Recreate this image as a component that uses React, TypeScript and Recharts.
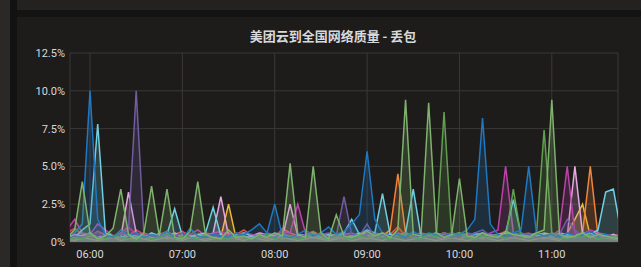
import React from 'react';
import { AreaChart, Area, XAxis, YAxis, CartesianGrid } from 'recharts';

// sample index i -> minutes since midnight = 345 + 5*i (05:45 .. 11:45)
const startMinute = 345;
const stepMinutes = 5;

const green = [
  0.3, 0.8, 4.0, 0.6, 0.2, 0.4, 0.9, 3.5, 0.5, 0.2,
  0.6, 3.7, 0.4, 3.5, 0.3, 0.2, 0.7, 4.0, 0.5, 0.3,
  0.2, 0.8, 0.3, 0.4, 0.2, 0.5, 0.3, 0.6, 0.4, 5.2,
  0.5, 0.3, 5.0, 0.6, 0.2, 1.8, 0.4, 0.3, 0.5, 0.7,
  0.4, 0.6, 0.3, 0.8, 9.4, 0.5, 0.4, 9.2, 0.6, 0.3,
  0.5, 4.2, 0.4, 0.3, 0.6, 0.4, 0.3, 0.7, 0.5, 0.4,
  0.3, 0.6, 0.8, 9.4, 0.5, 0.3, 0.4, 0.6, 0.3, 0.5,
  0.4, 0.3, 0.2,
];
const seaGreen = [
  0.1, 0.3, 0.2, 0.5, 0.3, 0.2, 0.4, 0.3, 0.2, 0.1,
  0.4, 0.2, 0.3, 0.6, 0.2, 0.4, 0.3, 0.2, 0.5, 0.2,
  0.3, 0.2, 0.4, 0.3, 0.2, 0.3, 0.5, 0.2, 0.3, 0.4,
  0.2, 0.3, 0.6, 0.4, 0.2, 0.5, 0.3, 0.2, 0.4, 0.3,
  0.5, 0.3, 0.2, 0.4, 0.6, 0.3, 0.2, 0.5, 0.3, 8.6,
  0.4, 0.6, 0.3, 0.2, 0.4, 0.3, 0.5, 0.2, 3.5, 0.4,
  0.3, 0.5, 7.4, 0.6, 0.3, 0.2, 0.4, 0.3, 0.5, 0.2,
  0.3, 0.4, 0.2,
];
const blue = [
  0.4, 0.6, 1.2, 10.0, 1.5, 0.5, 0.3, 0.8, 0.4, 0.6,
  0.3, 0.5, 0.4, 0.7, 0.3, 0.2, 0.9, 0.4, 0.3, 0.5,
  0.4, 0.3, 0.6, 0.5, 0.8, 1.2, 0.6, 2.5, 0.4, 0.3,
  0.5, 0.8, 0.4, 0.6, 1.0, 0.5, 0.7, 1.2, 1.8, 6.0,
  1.5, 0.6, 0.4, 0.5, 0.3, 0.7, 0.4, 0.6, 0.5, 0.4,
  0.6, 0.5, 0.8, 1.5, 8.2, 1.2, 0.5, 0.4, 0.6, 0.8,
  5.0, 0.6, 0.4, 0.5, 0.3, 0.6, 0.4, 0.5, 0.7, 0.4,
  0.5, 0.3, 0.2,
];
const violet = [
  0.2, 0.4, 0.3, 0.5, 0.6, 0.3, 0.4, 0.5, 0.8, 10.0,
  0.6, 0.4, 0.3, 0.5, 0.4, 0.6, 0.3, 0.2, 0.4, 0.5,
  0.3, 0.4, 0.6, 0.3, 0.2, 0.5, 0.4, 0.3, 0.6, 0.4,
  0.3, 0.5, 0.4, 0.6, 0.3, 0.4, 3.0, 0.5, 0.4, 1.2,
  0.3, 0.5, 0.4, 0.3, 0.6, 0.4, 0.5, 0.3, 0.4, 0.6,
  0.3, 0.5, 0.4, 0.6, 0.8, 0.4, 0.3, 0.5, 0.4, 0.6,
  0.5, 0.3, 0.4, 0.6, 0.5, 1.5, 0.8, 0.4, 0.3, 0.5,
  0.4, 0.3, 0.2,
];
const cyan = [
  0.5, 0.3, 0.8, 1.2, 7.8, 0.6, 0.4, 0.3, 0.5, 0.4,
  0.3, 0.6, 0.4, 0.5, 2.2, 0.4, 0.3, 0.5, 0.6, 2.3,
  0.4, 0.3, 0.5, 0.6, 0.4, 0.3, 0.5, 0.4, 0.6, 0.3,
  0.5, 0.4, 0.6, 0.3, 0.5, 0.4, 0.6, 1.5, 0.5, 0.8,
  0.6, 3.2, 0.5, 0.4, 0.6, 3.5, 0.4, 0.5, 0.6, 0.4,
  0.5, 0.6, 0.4, 0.5, 0.6, 0.4, 0.5, 0.6, 2.8, 0.5,
  0.4, 0.6, 0.5, 0.4, 0.6, 0.5, 0.4, 0.6, 0.5, 0.8,
  3.3, 3.5, 0.6,
];
const purple = [
  0.8, 1.5, 0.6, 0.5, 1.2, 0.8, 0.4, 0.6, 1.0, 0.5,
  0.6, 0.4, 0.5, 0.7, 0.4, 0.6, 0.5, 0.8, 0.4, 0.6,
  0.7, 0.5, 0.4, 0.6, 0.5, 0.4, 0.6, 0.5, 0.7, 0.6,
  2.5, 0.6, 0.4, 0.5, 0.6, 0.4, 0.5, 0.6, 0.4, 0.5,
  0.6, 0.5, 0.4, 0.6, 0.5, 0.4, 0.6, 0.5, 0.4, 0.6,
  0.5, 0.4, 0.6, 0.5, 0.4, 0.6, 0.8, 5.0, 0.6, 0.5,
  0.4, 0.6, 0.5, 0.4, 0.8, 5.0, 0.6, 0.5, 0.8, 0.6,
  0.5, 0.4, 0.3,
];
const pink = [
  0.3, 0.5, 0.4, 0.6, 0.3, 0.5, 0.4, 0.3, 3.3, 0.6,
  0.4, 0.3, 0.5, 0.4, 0.6, 0.3, 0.4, 0.5, 0.3, 0.6,
  3.0, 0.4, 0.5, 0.3, 0.4, 0.6, 0.5, 0.4, 0.3, 2.5,
  0.4, 0.5, 0.3, 0.6, 0.4, 0.5, 0.3, 0.4, 0.6, 0.5,
  0.3, 0.4, 0.5, 0.3, 0.6, 0.4, 0.5, 0.3, 0.4, 0.6,
  0.4, 0.5, 0.3, 0.6, 0.4, 0.5, 0.3, 0.6, 0.4, 0.5,
  0.3, 0.4, 0.6, 0.5, 0.3, 0.4, 5.0, 0.5, 0.4, 0.6,
  0.3, 0.5, 0.2,
];
const orange = [
  0.2, 0.3, 0.2, 0.4, 0.3, 0.2, 0.3, 0.2, 0.4, 0.3,
  0.2, 0.3, 0.4, 0.2, 0.3, 0.2, 0.4, 0.3, 0.2, 0.3,
  0.4, 0.2, 0.3, 0.2, 0.3, 0.4, 0.2, 0.3, 0.2, 0.4,
  0.3, 0.2, 0.4, 0.3, 0.2, 0.3, 0.2, 0.4, 0.3, 0.2,
  0.3, 0.4, 0.8, 4.5, 0.6, 0.3, 0.2, 0.4, 0.3, 0.2,
  0.3, 0.2, 0.4, 0.3, 0.2, 0.3, 0.4, 0.2, 0.3, 0.2,
  0.4, 0.3, 0.2, 0.3, 0.2, 0.4, 0.3, 0.6, 5.0, 0.4,
  0.3, 0.2, 0.3,
];
const yellow = [
  0.2, 0.1, 0.3, 0.2, 0.1, 0.2, 0.3, 0.1, 0.2, 0.3,
  0.2, 0.1, 0.2, 0.3, 0.2, 0.1, 0.3, 0.2, 0.1, 0.2,
  0.3, 2.5, 0.2, 0.1, 0.3, 0.2, 0.1, 0.2, 0.3, 0.2,
  0.1, 0.2, 0.3, 0.2, 0.1, 0.2, 0.3, 0.1, 0.2, 0.3,
  0.2, 0.1, 0.3, 0.2, 0.1, 0.2, 0.3, 0.2, 0.1, 0.2,
  0.3, 0.2, 0.1, 0.2, 0.3, 0.2, 0.1, 0.2, 0.3, 0.2,
  0.1, 0.2, 0.3, 0.2, 0.1, 0.6, 1.5, 2.5, 0.4, 0.2,
  0.3, 0.2, 0.1,
];
const red = [
  0.6, 0.9, 0.5, 0.4, 0.7, 0.5, 0.3, 0.6, 0.4, 0.8,
  0.5, 0.3, 0.6, 0.4, 0.5, 0.7, 0.4, 0.3, 0.6, 0.5,
  0.4, 0.6, 0.5, 0.8, 0.4, 0.6, 0.5, 0.3, 0.9, 0.6,
  0.4, 0.5, 0.7, 0.4, 0.5, 0.3, 0.6, 0.4, 0.5, 0.7,
  0.4, 0.6, 0.5, 1.0, 0.4, 0.5, 0.6, 0.3, 0.4, 0.5,
  0.6, 0.4, 0.5, 0.3, 0.6, 0.4, 0.5, 0.7, 0.4, 0.5,
  0.6, 0.4, 0.5, 0.3, 0.6, 0.5, 0.4, 0.6, 0.5, 0.4,
  0.3, 0.5, 0.4,
];

const seriesList = [
  { key: 'red', values: red, color: '#E24D42' },
  { key: 'yellow', values: yellow, color: '#EAB839' },
  { key: 'orange', values: orange, color: '#EF843C' },
  { key: 'pink', values: pink, color: '#E5A8E2' },
  { key: 'purple', values: purple, color: '#BA43A9' },
  { key: 'cyan', values: cyan, color: '#6ED0E0' },
  { key: 'violet', values: violet, color: '#705DA0' },
  { key: 'seaGreen', values: seaGreen, color: '#629E51' },
  { key: 'blue', values: blue, color: '#1F78C1' },
  { key: 'green', values: green, color: '#7EB26D' },
];

const xTicks = [360, 420, 480, 540, 600, 660];
const yTicks = [0, 2.5, 5, 7.5, 10, 12.5];
const title = '美团云到全国网络质量 - 丢包';

const data = green.map((_, i) => {
  const row: Record<string, number> = { t: startMinute + stepMinutes * i };
  seriesList.forEach((s) => {
    row[s.key] = s.values[i];
  });
  return row;
});

const fmtTime = (m: number) => {
  const h = Math.floor(m / 60);
  const mm = m % 60;
  return `${String(h).padStart(2, '0')}:${String(mm).padStart(2, '0')}`;
};
const fmtPct = (v: number) => (v === 0 ? '0%' : `${v.toFixed(1)}%`);

const tickStyle = { fill: '#d8d9da', fontSize: 11, fontFamily: 'Roboto, "Noto Sans", sans-serif' };

export default function App() {
  return (
    <div
      style={{
        position: 'fixed',
        left: 0,
        top: 0,
        width: 641,
        height: 267,
        background: '#1e1c1b',
        overflow: 'hidden',
      }}
    >
      <div style={{ position: 'absolute', left: 0, top: 0, width: 10, height: 267, background: '#2a2928' }} />
      <div style={{ position: 'absolute', left: 10, top: 0, width: 7, height: 267, background: '#131212' }} />
      <div style={{ position: 'absolute', left: 17, top: 0, width: 624, height: 10, background: '#232221' }} />
      <div style={{ position: 'absolute', left: 17, top: 10, width: 624, height: 7, background: '#141313' }} />
      <div
        style={{
          position: 'absolute',
          left: 0,
          top: 26,
          width: 666,
          textAlign: 'center',
          color: '#d8d9da',
          fontSize: 13,
          fontWeight: 600,
          fontFamily: '"Noto Sans CJK SC", sans-serif',
        }}
      >
        {title}
      </div>
      <div style={{ position: 'absolute', left: 0, top: 0 }}>
        <AreaChart width={641} height={267} data={data} margin={{ top: 53, right: 23, bottom: 0, left: 0 }}>
          <CartesianGrid stroke="#3a3837" strokeWidth={1} />
          <XAxis
            dataKey="t"
            type="number"
            domain={[347, 703]}
            allowDataOverflow
            ticks={xTicks}
            tickFormatter={fmtTime}
            tick={tickStyle}
            tickSize={0}
            tickMargin={8}
            axisLine={false}
            height={25}
          />
          <YAxis
            type="number"
            domain={[0, 12.5]}
            ticks={yTicks}
            tickFormatter={fmtPct}
            tick={tickStyle}
            tickSize={0}
            tickMargin={5}
            axisLine={false}
            width={70}
          />
          {seriesList.map((s) => (
            <Area
              key={s.key}
              dataKey={s.key}
              type="linear"
              stroke={s.color}
              strokeWidth={1.5}
              fill={s.color}
              fillOpacity={0.2}
              isAnimationActive={false}
              dot={false}
              activeDot={false}
            />
          ))}
        </AreaChart>
      </div>
    </div>
  );
}
